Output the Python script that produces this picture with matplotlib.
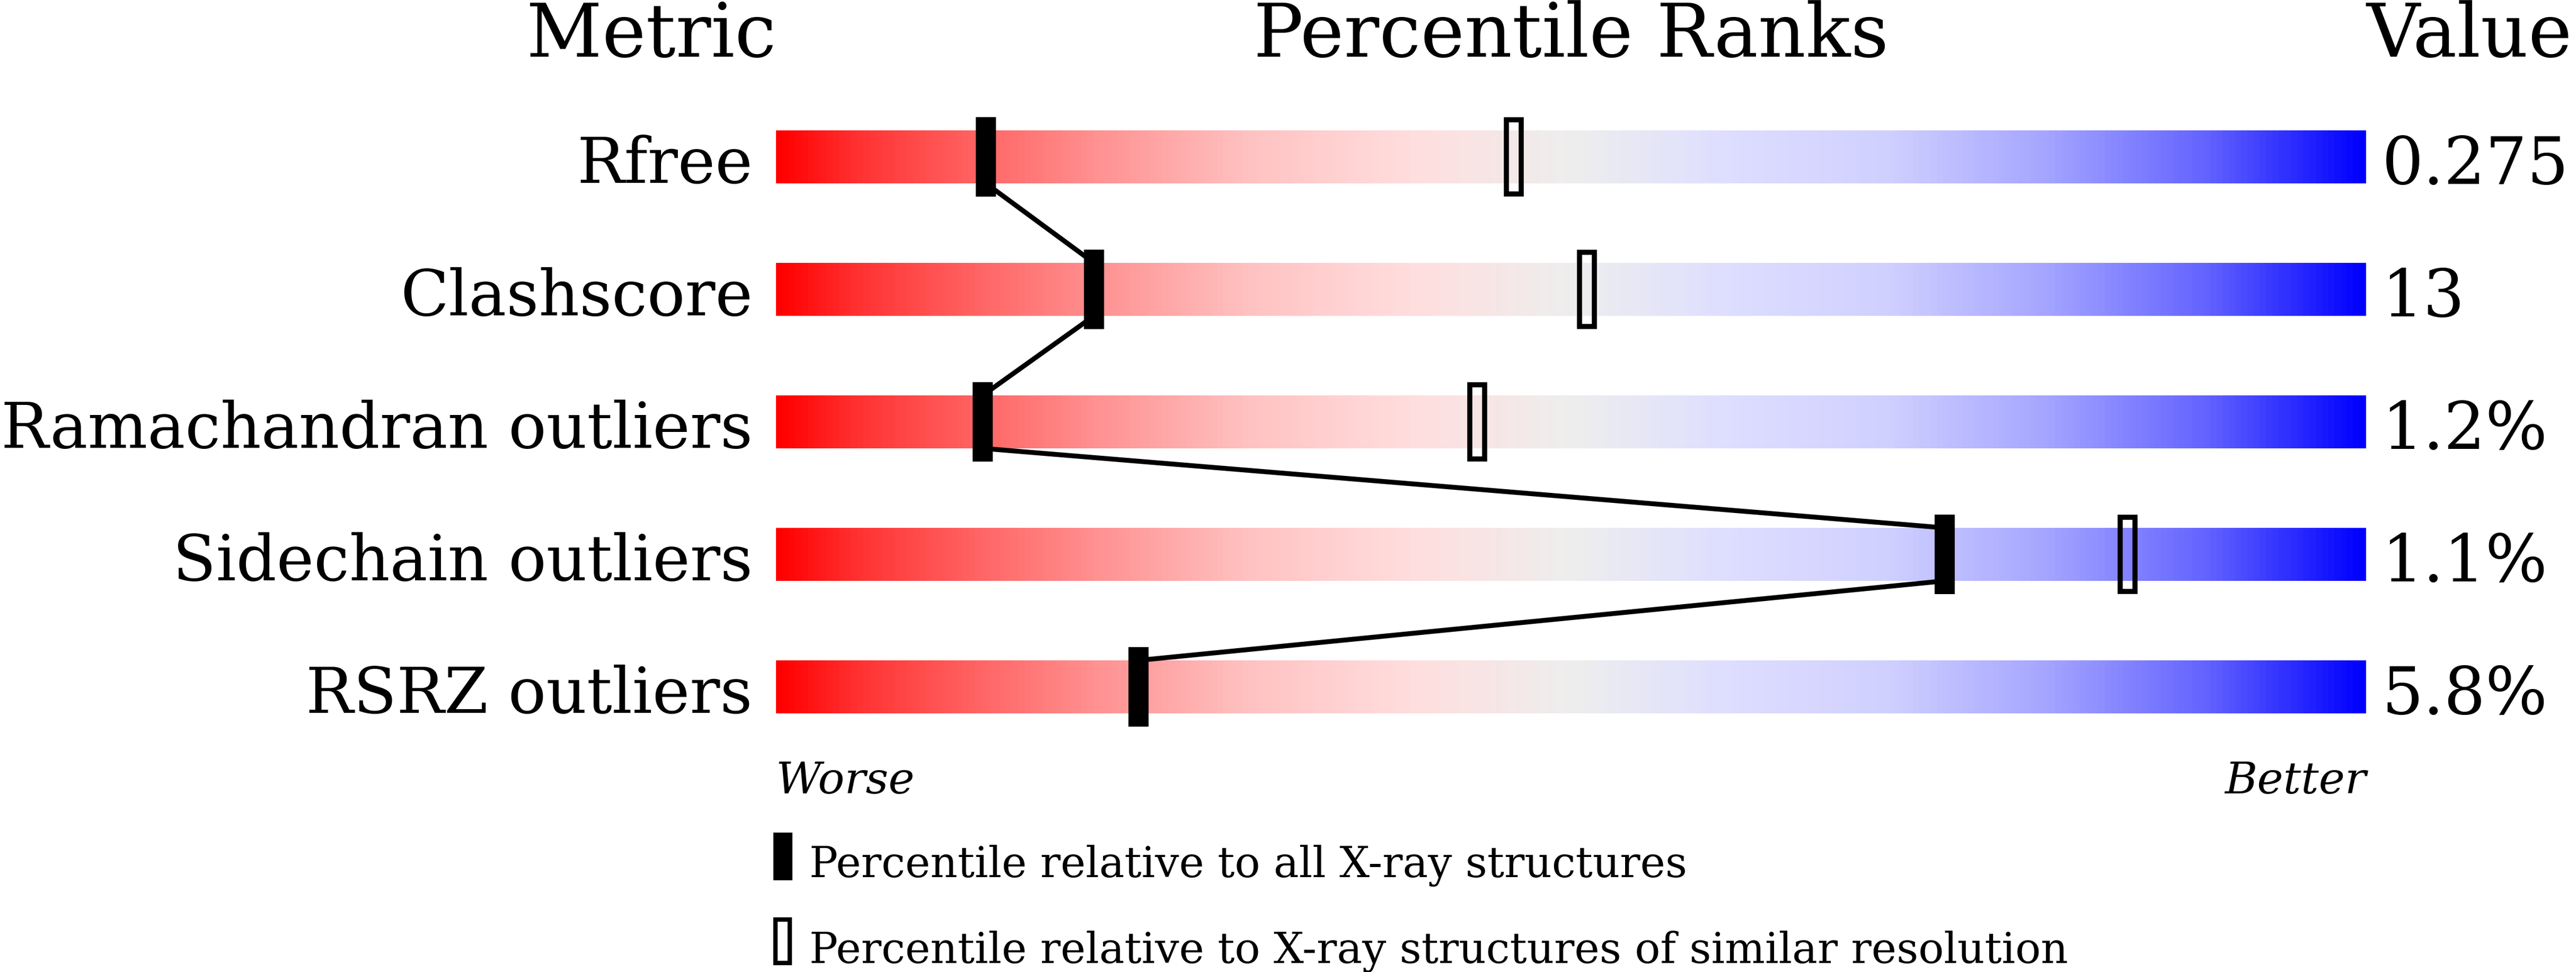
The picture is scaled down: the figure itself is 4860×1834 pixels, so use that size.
import numpy as np
import matplotlib
matplotlib.use("Agg")
import matplotlib.pyplot as plt
from matplotlib.colors import LinearSegmentedColormap
from matplotlib.patches import Rectangle

plt.rcParams['font.family'] = ['DejaVu Serif']

metrics = ["Rfree", "Clashscore", "Ramachandran outliers", "Sidechain outliers", "RSRZ outliers"]
values = ["0.275", "13", "1.2%", "1.1%", "5.8%"]
pct_all = [13.2, 20.0, 13.0, 73.5, 22.8]          # percentile vs all X-ray structures
pct_res = [46.4, 51.0, 44.1, 85.0, None]           # percentile vs similar resolution

# slider colour stops (position, rgb)
stops = [(0.00, (255, 0, 0)), (0.05, (255, 50, 50)), (0.125, (255, 100, 100)),
         (0.20, (255, 145, 145)), (0.30, (255, 195, 195)), (0.40, (255, 222, 222)),
         (0.50, (238, 238, 238)), (0.60, (222, 222, 255)), (0.70, (208, 208, 255)),
         (0.80, (165, 165, 255)), (0.90, (100, 100, 255)), (1.00, (0, 0, 255))]
cmap = LinearSegmentedColormap.from_list(
    "slider", [(p, tuple(c / 255 for c in rgb)) for p, rgb in stops])

W, H, DPI = 4860, 1835, 300
fig = plt.figure(figsize=(W / DPI, H / DPI), dpi=DPI)
# axes spans the slider width; x in percentile, y in row units
ax = fig.add_axes([1464 / W, 0, 3000 / W, 1])
ax.set_xlim(0, 100)
ax.set_ylim((H - 297) / 250, -297 / 250)
ax.axis("off")

bar_h = 0.4
mk_w, mk_h = 1.27, 0.6
grad = np.linspace(0, 1, 1000).reshape(1, -1)

for i, (name, val) in enumerate(zip(metrics, values)):
    ax.imshow(grad, cmap=cmap, aspect="auto", interpolation="bilinear",
              extent=(0, 100, i + bar_h / 2, i - bar_h / 2), zorder=1)
    ax.text(-1.47, i + 0.194, name, ha="right", va="baseline", fontsize=28.6)
    ax.text(101.0, i + 0.2, val, ha="left", va="baseline", fontsize=29.6)

# connecting line between "all" markers, bar bottom to next bar top
for i in range(len(metrics) - 1):
    ax.plot([pct_all[i], pct_all[i + 1]], [i + bar_h / 2, i + 1 - bar_h / 2],
            color="black", lw=2.2, solid_capstyle="butt", zorder=2)

for i, p in enumerate(pct_all):
    ax.add_patch(Rectangle((p - mk_w / 2, i - mk_h / 2), mk_w, mk_h,
                           facecolor="black", edgecolor="none", zorder=3))
lw_open = 2.3
for i, p in enumerate(pct_res):
    if p is None:
        continue
    ax.add_patch(Rectangle((p - mk_w / 2 + 0.17, i - mk_h / 2 + 0.02), mk_w - 0.34, mk_h - 0.04,
                           facecolor="none", edgecolor="black", lw=lw_open, zorder=3))

# headers
hy = (107 - 297) / 250
ax.text(0, hy, "Metric", ha="right", va="baseline", fontsize=33.5)
ax.text(50, hy, "Percentile Ranks", ha="center", va="baseline", fontsize=33.5)
ax.text(100, hy, "Value", ha="left", va="baseline", fontsize=33.5)

# worse / better
wy = (1497 - 297) / 250
ax.text(0, wy, "Worse", ha="left", va="baseline", fontsize=20, style="italic")
ax.text(100, wy, "Better", ha="right", va="baseline", fontsize=20, style="italic")

# legend
ly1, ly2 = (1617 - 297) / 250, (1777 - 297) / 250
ax.add_patch(Rectangle((0.43 - 0.6, ly1 - 0.18), 1.2, 0.36, facecolor="black",
                       edgecolor="none", clip_on=False))
ax.add_patch(Rectangle((0.43 - 0.45, ly2 - 0.165), 0.9, 0.33, facecolor="none",
                       edgecolor="black", lw=2.0, clip_on=False))
ax.text(2.1, (1655 - 297) / 250, "Percentile relative to all X-ray structures",
        ha="left", va="baseline", fontsize=19.2)
ax.text(2.1, (1817 - 297) / 250, "Percentile relative to X-ray structures of similar resolution",
        ha="left", va="baseline", fontsize=19.2)

fig.savefig("out.png", dpi=DPI)
